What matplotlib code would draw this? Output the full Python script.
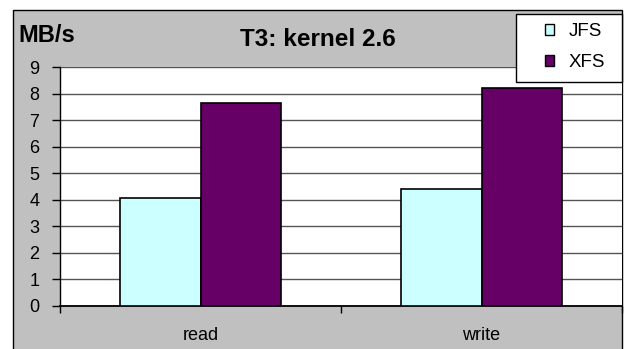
import numpy as np
import matplotlib
matplotlib.use('Agg')
import matplotlib.pyplot as plt
from matplotlib.patches import Rectangle

plt.rcParams['font.family'] = ['Liberation Sans', 'DejaVu Sans']

categories = ['read', 'write']
series = ['JFS', 'XFS']
jfs = [4.05, 4.40]
xfs = [7.65, 8.22]
colors = ['#CCFFFF', '#660066']
yticks = list(range(0, 10))

fig = plt.figure(figsize=(6.25, 3.49), dpi=100)
fig.patch.set_facecolor('white')

# grey chart area with thin black border
fig.patches.append(Rectangle((13/625, -0.05), 609/625, 1.05 - 10/349, transform=fig.transFigure,
                             facecolor='#C0C0C0', edgecolor='black', lw=1, zorder=-1))

ax = fig.add_axes([60/625, 1 - 306/349, 562/625, (306 - 67)/349])
ax.set_facecolor('white')

x = np.arange(len(categories))
w = 0.288
ax.bar(x - w/2, jfs, w, color=colors[0], edgecolor='black', lw=1.2, label=series[0], zorder=3)
ax.bar(x + w/2, xfs, w, color=colors[1], edgecolor='black', lw=1.2, label=series[1], zorder=3)

ax.set_xlim(-0.5, 1.5)
ax.set_ylim(0, 9)
ax.set_yticks(yticks)
ax.yaxis.grid(True, color='#555555', lw=1)
ax.set_axisbelow(True)
ax.tick_params(axis='y', labelsize=13, length=6, width=1, pad=9, direction='out')

# category boundaries carry the ticks, centres carry the labels
ax.set_xticks([-0.5, 0.5, 1.5])
ax.set_xticklabels([])
ax.set_xticks(x, minor=True)
ax.set_xticklabels(categories, minor=True)
ax.tick_params(axis='x', which='major', length=5, width=1, direction='out')
ax.tick_params(axis='x', which='minor', length=0, labelsize=13, pad=15)

for s in ['top', 'right']:
    ax.spines[s].set_visible(False)
ax.spines['left'].set_lw(1)
ax.spines['bottom'].set_lw(1.3)

fig.text(18/625, 1 - 35/349, 'MB/s', fontsize=17, fontweight='bold', va='center', ha='left')
fig.text(318/625, 1 - 40/349, 'T3: kernel 2.6', fontsize=17.5, fontweight='bold', va='center', ha='center')

# legend box
fig.patches.append(Rectangle((516/625, 1 - 82/349), 106/625, 68/349, transform=fig.transFigure,
                             facecolor='white', edgecolor='black', lw=1, zorder=5))
leg = fig.legend(loc='upper left', bbox_to_anchor=(545/625, 1 - 23/349), frameon=False,
                 fontsize=13.5, handlelength=0.5, handleheight=0.5, handletextpad=0.75,
                 labelspacing=0.75, borderpad=0, borderaxespad=0)
leg.set_zorder(6)
for h in leg.legend_handles:
    h.set_edgecolor('black')
    h.set_linewidth(1)

fig.savefig('out.png', dpi=100)
